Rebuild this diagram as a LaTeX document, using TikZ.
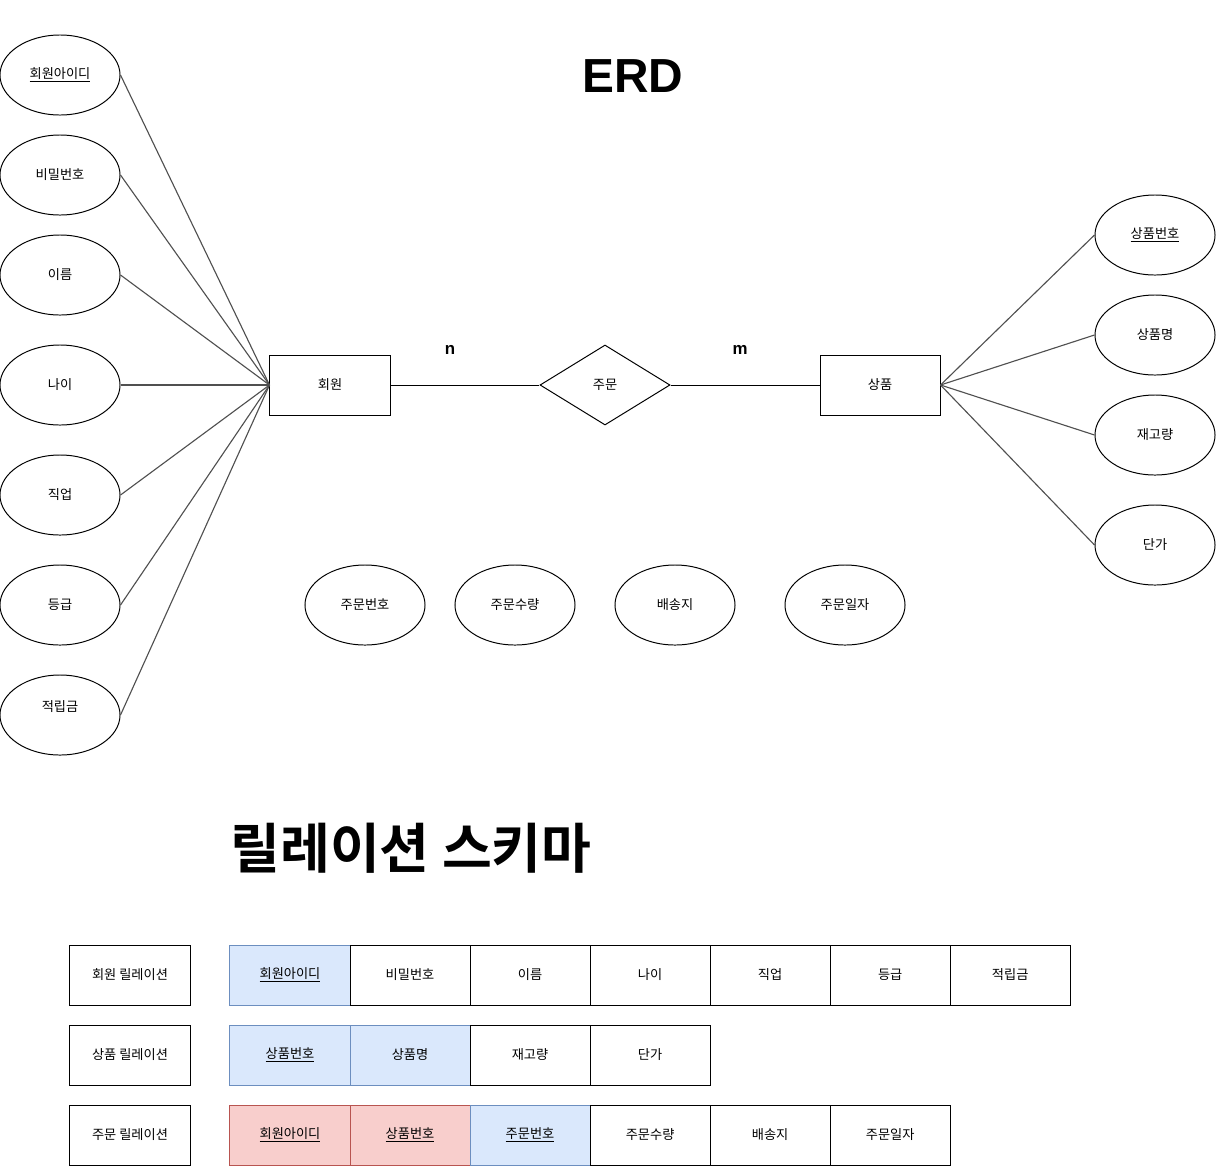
\documentclass[tikz,border=0pt]{standalone}
\usepackage{fontspec}
\setmainfont{Liberation Sans}
\newfontfamily\krfont{Noto Sans CJK KR}[BoldFont={Noto Sans CJK KR Bold}]
\usepackage{tikz}
\usetikzlibrary{positioning,shapes.geometric}
\definecolor{keyfill}{HTML}{DAE8FC}
\definecolor{keydraw}{HTML}{6C8EBF}
\definecolor{fkfill}{HTML}{F8CECC}
\definecolor{fkdraw}{HTML}{B85450}
\definecolor{linkgray}{HTML}{505050}
\tikzset{attr node/.style={ellipse,draw,line width=0.7pt,minimum width=3cm,minimum height=2cm,inner sep=0pt,font=\krfont\fontsize{9.4}{11}\selectfont}}
\tikzset{entity node/.style={rectangle,draw,line width=0.7pt,minimum width=3cm,minimum height=1.5cm,inner sep=0pt,font=\krfont\fontsize{9.4}{11}\selectfont}}
\tikzset{rel node/.style={diamond,draw,line width=0.7pt,minimum width=3.25cm,minimum height=2cm,inner sep=0pt,font=\krfont\fontsize{9.4}{11}\selectfont}}
\tikzset{cell/.style={rectangle,draw,line width=0.7pt,minimum width=3cm,minimum height=1.5cm,inner sep=0pt,outer sep=0pt,font=\krfont\fontsize{9.4}{11}\selectfont}}
\tikzset{key cell/.style={cell,draw=keydraw,fill=keyfill}}
\tikzset{fk cell/.style={cell,draw=fkdraw,fill=fkfill}}
\tikzset{link/.style={linkgray,line width=0.8pt}}

\begin{document}
\begin{tikzpicture}[x=0.025cm,y=-0.025cm]
            \useasboundingbox (0,0) rectangle (1216,1166);
            \node[font=\bfseries\fontsize{34}{38}\selectfont] (erd) at (633,76) {ERD};
            
            \node[entity node] (member) at (330,385) {회원};
            \node[rel node] (order) at (605,385) {주문};
            \node[entity node] (product) at (880,385) {상품};
            \node[font=\bfseries\fontsize{12}{14}\selectfont] (n) at (450,350) {n};
            \node[font=\bfseries\fontsize{12}{14}\selectfont] (m) at (740,350) {m};
            
            \node[attr node] (memberid) at (60,75) {\underline{회원아이디}};
            \node[attr node] (pw) at (60,175) {비밀번호};
            \node[attr node] (name) at (60,275) {이름};
            \node[attr node] (age) at (60,385) {나이};
            \node[attr node] (job) at (60,495) {직업};
            \node[attr node] (grade) at (60,605) {등급};
            \node[attr node] (point) at (60,715) {};
            \node[font=\krfont\fontsize{9.4}{11}\selectfont] (pointtext) at (60,707) {적립금};
            
            \node[attr node] (productid) at (1155,235) {\underline{상품번호}};
            \node[attr node] (pname) at (1155,335) {상품명};
            \node[attr node] (stock) at (1155,435) {재고량};
            \node[attr node] (price) at (1155,545) {단가};
            
            \node[attr node] (orderid) at (365,605) {주문번호};
            \node[attr node] (qty) at (515,605) {주문수량};
            \node[attr node] (addr) at (675,605) {배송지};
            \node[attr node] (date) at (845,605) {주문일자};
            
            \path[draw, link]
            (memberid.east) edge (member.west)
            (pw.east) edge (member.west)
            (name.east) edge (member.west)
            (age.east) edge (member.west)
            (job.east) edge (member.west)
            (grade.east) edge (member.west)
            (point.east) edge (member.west)
            (product.east) edge (productid.west)
            (product.east) edge (pname.west)
            (product.east) edge (stock.west)
            (product.east) edge (price.west);
            
            \path[draw, line width=0.7pt]
            (member) edge (order)
            (order) edge (product);
            
            \node[font=\krfont\bfseries\fontsize{38.5}{42}\selectfont] (schema) at (411,848) {릴레이션 스키마};
            
            \node[cell] (memberrel) at (130,975) {회원 릴레이션};
            \node[cell] (productrel) at (130,1055) {상품 릴레이션};
            \node[cell] (orderrel) at (130,1135) {주문 릴레이션};
            
            \node[key cell] (m1) at (290,975) {\underline{회원아이디}};
            \node[cell] (m2) [right = 0pt of m1] {비밀번호};
            \node[cell] (m3) [right = 0pt of m2] {이름};
            \node[cell] (m4) [right = 0pt of m3] {나이};
            \node[cell] (m5) [right = 0pt of m4] {직업};
            \node[cell] (m6) [right = 0pt of m5] {등급};
            \node[cell] (m7) [right = 0pt of m6] {적립금};
            
            \node[key cell] (p1) at (290,1055) {\underline{상품번호}};
            \node[key cell] (p2) [right = 0pt of p1] {상품명};
            \node[cell] (p3) [right = 0pt of p2] {재고량};
            \node[cell] (p4) [right = 0pt of p3] {단가};
            
            \node[fk cell] (o1) at (290,1135) {\underline{회원아이디}};
            \node[fk cell] (o2) [right = 0pt of o1] {\underline{상품번호}};
            \node[key cell] (o3) [right = 0pt of o2] {\underline{주문번호}};
            \node[cell] (o4) [right = 0pt of o3] {주문수량};
            \node[cell] (o5) [right = 0pt of o4] {배송지};
            \node[cell] (o6) [right = 0pt of o5] {주문일자};
        \end{tikzpicture}
\end{document}
